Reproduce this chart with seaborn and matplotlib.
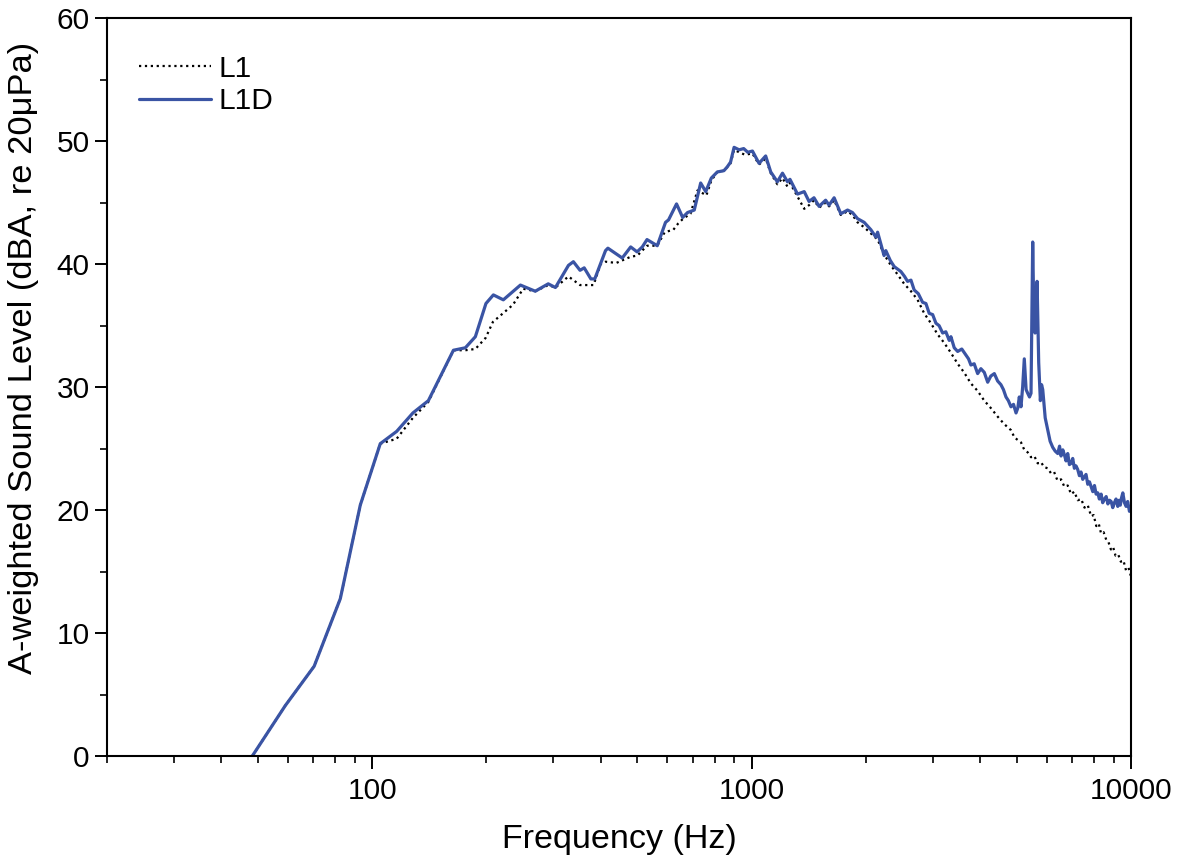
import numpy as np
import pandas as pd
import matplotlib
matplotlib.use("Agg")
import matplotlib.pyplot as plt
import seaborn as sns
from matplotlib.ticker import NullFormatter, FixedLocator, LogLocator

# ---- data ----
l1d_freq = [48.3, 59, 70.3, 82.4, 93, 105, 116, 128, 140.6, 163.7, 176, 187, 199.4, 208.6, 221.6,
            245.8, 269, 291, 304, 329, 339, 353, 362, 377, 386, 412, 418, 456, 480, 499, 515, 530,
            564, 593, 604, 634, 658, 678, 706, 734, 757, 783, 812, 845, 862, 880, 899, 927, 953,
            977, 1005, 1046, 1089, 1123, 1169, 1206, 1243, 1262, 1321, 1376, 1417, 1460, 1506,
            1567, 1600, 1650, 1718, 1790, 1844, 1902, 1980, 2062, 2126, 2148, 2234, 2258, 2320,
            2376, 2474, 2530, 2576, 2630, 2682, 2750, 2822, 2880, 2938, 3000, 3060, 3120, 3188,
            3250, 3318, 3352, 3420, 3492, 3580, 3672, 3730, 3784, 3860, 3942, 4020, 4104, 4190,
            4270, 4362, 4450, 4540, 4610, 4682, 4750, 4826, 4900, 4976, 5030, 5076, 5128, 5180,
            5232, 5290, 5342, 5400, 5450, 5506, 5550, 5586, 5620, 5654, 5710, 5768, 5810, 5852,
            5940, 6032, 6120, 6218, 6310, 6410, 6480, 6540, 6610, 6674, 6740, 6810, 6880, 6950,
            7020, 7090, 7160, 7236, 7310, 7380, 7460, 7534, 7610, 7690, 7770, 7850, 7930, 8010,
            8090, 8174, 8250, 8340, 8420, 8512, 8600, 8690, 8780, 8864, 8950, 9040, 9130, 9226,
            9300, 9370, 9440, 9514, 9610, 9706, 9800, 9904, 10000]
l1d_db = [0.0, 4.1, 7.3, 12.8, 20.4, 25.4, 26.4, 27.9, 28.9, 33.0, 33.2, 34.1, 36.8, 37.5, 37.1,
          38.3, 37.8, 38.4, 38.1, 39.9, 40.2, 39.5, 39.7, 38.8, 38.8, 41.1, 41.3, 40.5, 41.4, 41.0,
          41.4, 42.0, 41.5, 43.4, 43.6, 44.9, 43.8, 44.2, 44.4, 46.6, 45.9, 47.0, 47.5, 47.6, 47.9,
          48.3, 49.5, 49.3, 49.4, 49.1, 49.2, 48.2, 48.8, 47.5, 46.7, 47.4, 46.7, 46.9, 45.7, 45.9,
          45.1, 45.4, 44.7, 45.2, 44.8, 45.4, 44.1, 44.4, 44.2, 43.7, 43.4, 42.8, 42.2, 42.6, 40.7,
          41.1, 40.3, 39.8, 39.4, 39.0, 38.6, 38.7, 37.9, 37.6, 36.9, 36.8, 36.0, 35.9, 35.2, 35.0,
          34.4, 34.5, 33.8, 34.1, 33.2, 32.9, 33.1, 32.6, 32.3, 31.8, 31.9, 31.1, 31.5, 31.2, 30.4,
          30.9, 31.1, 30.5, 30.2, 29.8, 29.2, 28.9, 28.4, 28.6, 27.9, 28.3, 29.2, 28.4, 30.0,
          32.3, 29.8, 29.5, 29.2, 29.5, 41.8, 35.0, 34.4, 36.5, 38.6, 32.0, 28.9, 30.2, 29.8,
          27.5, 26.5, 25.6, 25.1, 24.8, 24.6, 25.2, 24.4, 24.9, 24.5, 24.0, 24.6, 23.7, 23.8,
          24.2, 23.4, 23.6, 23.3, 22.8, 23.1, 22.5, 22.7, 22.9, 22.1, 22.3, 21.9, 21.5, 22.0,
          21.3, 21.4, 20.9, 21.3, 20.6, 20.9, 21.1, 20.5, 20.8, 20.7, 20.2, 20.6, 20.9, 20.3,
          20.8, 20.4, 21.0, 21.4, 20.6, 20.3, 20.7, 19.9, 20.1]

l1_freq = [48.3, 59, 70.3, 82.4, 93, 105, 116, 128, 140.6, 163.7, 176, 187, 199, 208, 235, 250,
           269, 291, 304, 329, 353, 383, 400, 412, 440, 480, 500, 530, 564, 590, 622, 640, 660,
           690, 720, 760, 783, 812, 845, 880, 899, 927, 960, 1005, 1046, 1089, 1123, 1169, 1206,
           1243, 1262, 1321, 1376, 1417, 1460, 1506, 1567, 1600, 1650, 1718, 1790, 1844, 1902,
           1980, 2062, 2148, 2234, 2328, 2420, 2524, 2630, 2738, 2850, 2968, 3090, 3218, 3350,
           3492, 3630, 3784, 3940, 4104, 4270, 4452, 4630, 4826, 4930, 5030, 5130, 5232, 5340,
           5450, 5560, 5676, 5790, 5900, 6030, 6152, 6270, 6400, 6540, 6674, 6810, 6950, 7090,
           7236, 7390, 7540, 7690, 7850, 7970, 8100, 8220, 8338, 8470, 8600, 8720, 8850, 8970,
           9100, 9250, 9400, 9550, 9700, 9850, 10000]
l1_db = [0.0, 4.1, 7.3, 12.8, 20.4, 25.4, 25.8, 27.5, 28.8, 33.0, 33.0, 33.1, 34.0, 35.3, 36.7,
         38.0, 37.8, 38.3, 38.1, 39.0, 38.3, 38.3, 40.0, 40.2, 40.1, 40.6, 40.7, 41.5, 41.5, 42.6,
         42.8, 43.3, 43.7, 44.1, 46.0, 45.6, 46.8, 47.5, 47.6, 48.2, 49.3, 49.1, 48.9, 49.0, 48.1,
         48.6, 47.4, 46.5, 47.0, 46.3, 46.6, 45.5, 44.5, 44.8, 45.2, 44.6, 45.0, 44.7, 45.2, 44.0,
         44.3, 44.0, 43.4, 43.0, 42.5, 42.0, 40.8, 39.9, 39.2, 38.4, 37.8, 37.1, 36.0, 35.2, 34.3,
         33.6, 32.8, 31.9, 31.2, 30.3, 29.7, 28.9, 28.3, 27.6, 27.0, 26.5, 25.9, 25.7, 25.5, 24.9,
         24.7, 24.3, 24.4, 23.8, 23.9, 23.5, 23.4, 23.0, 23.1, 22.4, 22.5, 21.9, 22.0, 21.3, 21.5,
         20.8, 20.9, 20.2, 20.4, 19.5, 19.6, 18.7, 18.9, 18.1, 18.2, 17.6, 17.4, 16.8, 17.0,
         16.3, 16.4, 15.8, 15.9, 15.1, 15.3, 14.6]

x_ticks = [100, 1000, 10000]
x_ticklabels = ["100", "1000", "10000"]
y_ticks = [0, 10, 20, 30, 40, 50, 60]

df_l1 = pd.DataFrame({"freq": l1_freq, "db": l1_db})
df_l1d = pd.DataFrame({"freq": l1d_freq, "db": l1d_db})

sns.set_style("ticks")
plt.rcParams["font.family"] = ["Liberation Sans", "DejaVu Sans"]
plt.rcParams["text.color"] = "black"
plt.rcParams["axes.labelcolor"] = "black"
plt.rcParams["xtick.color"] = "black"
plt.rcParams["ytick.color"] = "black"

fig = plt.figure(figsize=(11.8, 8.68), dpi=100)
ax = fig.add_axes([0.0907, 0.129, 0.8678, 0.850])

sns.lineplot(data=df_l1, x="freq", y="db", ax=ax, color="black", linestyle=":",
             linewidth=1.6, label="L1", estimator=None, sort=False)
sns.lineplot(data=df_l1d, x="freq", y="db", ax=ax, color="#3A54A4", linestyle="-",
             linewidth=2.3, label="L1D", estimator=None, sort=False)

ax.set_xscale("log")
ax.set_xlim(20, 10000)
ax.set_ylim(0, 60)
ax.xaxis.set_major_locator(FixedLocator(x_ticks))
ax.set_xticklabels(x_ticklabels)
ax.xaxis.set_minor_locator(LogLocator(base=10, subs=np.arange(2, 10)))
ax.xaxis.set_minor_formatter(NullFormatter())
ax.set_yticks(y_ticks)
ax.yaxis.set_minor_locator(FixedLocator([5, 15, 25, 35, 45, 55]))

for sp in ax.spines.values():
    sp.set_linewidth(1.5)
    sp.set_color("black")

ax.tick_params(axis="both", which="major", direction="out", length=9, width=1.4,
               labelsize=21.5, colors="black", labelcolor="black", top=False, right=False)
ax.tick_params(axis="both", which="minor", direction="out", length=5, width=1.2,
               top=False, right=False)
ax.tick_params(axis="x", which="major", pad=6)

ax.set_xlabel("Frequency (Hz)", fontsize=24.5, labelpad=14, color="black")
ax.set_ylabel("A-weighted Sound Level (dBA, re 20\u03bcPa)", fontsize=24.8, color="black")
ax.yaxis.set_label_coords(-0.066, 0.54)

leg = ax.legend(loc="upper left", frameon=False, fontsize=21.5, handlelength=2.4,
                handletextpad=0.25, labelspacing=0.15, borderaxespad=0.0,
                bbox_to_anchor=(0.02, 0.967))
for t in leg.get_texts():
    t.set_color("black")

fig.savefig("out.png", dpi=100)
